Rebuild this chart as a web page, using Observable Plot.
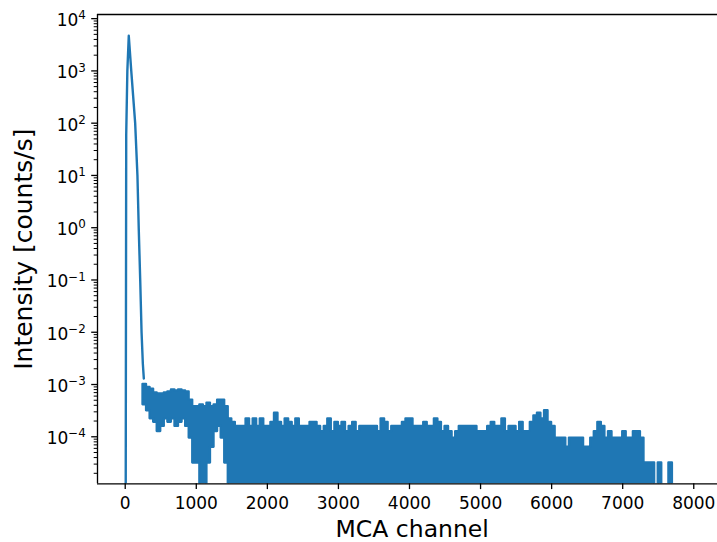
<!DOCTYPE html>
<html>
<head>
<meta charset="utf-8">
<script src="https://cdn.jsdelivr.net/npm/d3@7"></script>
<script src="https://cdn.jsdelivr.net/npm/@observablehq/plot@0.6"></script>
<style>
  html, body { margin: 0; padding: 0; background: #fff; overflow: hidden; }
</style>
</head>
<body>
<div id="chart"></div>
<script>
// ---- Data ----
// Main peak, MCA channel vs intensity [counts/s]
const PEAK_CHANNEL = [0, 14, 30, 50, 85, 140, 172, 190, 211, 230, 248, 262];
const PEAK_RATE    = [0, 60, 1000, 4700, 1000, 100, 10, 1, 0.1, 0.01, 0.0025, 0.0013];

// Noisy tail, read as 50-channel bins starting at channel 250.
// Values are integer counts; one count corresponds to COUNT_RATE counts/s.
const COUNT_RATE = 3.15e-5;
const BIN_FIRST = 250;
const BIN_WIDTH = 50;
// highest level reached in each bin
const BIN_HIGH = [
  32, 28, 26, 22, 21, 21, 22, 23, 25, 24, 25, 24, 23, 16, 12,      // 250 - 949
  12, 13, 12, 14, 12, 13, 16, 16, 12, 7,                           // 950 - 1449
  6, 5, 5, 5, 7, 5, 7, 5, 7, 5, 5, 6, 9,                           // 1500 - 2149
  6, 5, 7, 6, 5, 7, 5, 5, 5, 6, 6, 5, 4, 5, 7, 4, 6,               // 2150 - 2999
  5, 6, 4, 5, 6, 4, 5, 5, 5, 5, 5, 4, 7, 6, 4, 5, 5, 5, 6, 7,      // 3000 - 3999
  7, 5, 5, 5, 6, 5, 5, 7, 6, 4, 5, 4, 3, 4, 5, 5, 5, 5, 5, 4,      // 4000 - 4999
  4, 4, 5, 6, 5, 5, 7, 4, 5, 5, 4, 6, 4, 4, 6, 8, 9, 7, 10, 6,     // 5000 - 5999
  5, 3, 3, 3, 2, 3, 3, 3, 3, 2, 2, 3, 4, 6, 5, 3, 4, 3, 3, 3,      // 6000 - 6999
  4, 3, 3, 4, 4, 3, 1, 1, 1, 0, 1, 0, 0, 1, 0                      // 7000 - 7749
];
// lowest level reached in each bin (0 = a channel with no counts); later bins are 0
const BIN_LOW = [
  13, 10, 7, 6, 4, 5, 7, 6, 7, 5, 6, 7, 5, 3, 1,                   // 250 - 949
  1, 0, 0, 1, 2, 4, 5, 3, 1, 0                                     // 950 - 1449
];

const X_TICKS = [0, 1000, 2000, 3000, 4000, 5000, 6000, 7000, 8000];
const Y_TICKS = [1e-4, 1e-3, 1e-2, 1e-1, 1e0, 1e1, 1e2, 1e3, 1e4];
const X_DOMAIN = [-390, 8334];
const Y_DOMAIN = [1.26e-5, 1.2e4];

// log scale cannot show 0: like matplotlib, zero counts are clipped to the bottom
const ZERO_FLOOR = 1e-12;
const pos = v => (v > 0 ? v : ZERO_FLOOR);

const Y_MINOR = [];
for (const t of [1e-5, ...Y_TICKS]) for (let k = 2; k <= 9; k++) {
  const v = t * k;
  if (v > Y_DOMAIN[0] && v < Y_DOMAIN[1]) Y_MINOR.push(v);
}

const peak = PEAK_CHANNEL.map((c, i) => ({channel: c, rate: PEAK_RATE[i]}));
const bins = BIN_HIGH.map((h, i) => ({
  channel: BIN_FIRST + i * BIN_WIDTH,
  hi: h * COUNT_RATE,
  lo: (BIN_LOW[i] ?? 0) * COUNT_RATE
}));

const BLUE = "#1f77b4";
const TICK_FONT = 17;

const svg = Plot.plot({
  width: 717,
  height: 542,
  marginLeft: 97,
  marginRight: 0,
  marginTop: 14,
  marginBottom: 58.7,
  style: {fontFamily: "DejaVu Sans", fontSize: "17px", color: "black", background: "white", overflow: "visible"},
  x: {domain: X_DOMAIN, label: null},
  y: {type: "log", domain: Y_DOMAIN, label: null},
  marks: [
    Plot.areaY(bins, {
      x: "channel", y1: d => pos(d.lo), y2: d => pos(d.hi),
      curve: "step-after", fill: BLUE, stroke: BLUE, strokeWidth: 2.3,
      strokeLinejoin: "round", clip: true
    }),
    Plot.line(peak, {
      x: "channel", y: d => pos(d.rate), stroke: BLUE, strokeWidth: 2.4,
      strokeLinejoin: "round", strokeLinecap: "round", clip: true
    }),
    Plot.axisX(X_TICKS, {
      tickSize: 5.8, tickPadding: 7, strokeWidth: 1.3, label: null,
      fontSize: TICK_FONT, fontFamily: "DejaVu Sans", tickFormat: d => String(d)
    }),
    Plot.axisY(Y_MINOR, {tickSize: 3.3, strokeWidth: 1, tickFormat: () => "", label: null}),
    Plot.axisY(Y_TICKS, {
      tickSize: 5.8, tickPadding: 5.8, strokeWidth: 1.3, label: null,
      fontSize: TICK_FONT, fontFamily: "DejaVu Sans",
      tickFormat: d => "10^" + Math.round(Math.log10(d))
    }),
    Plot.ruleX([X_DOMAIN[0]], {stroke: "black", strokeWidth: 1.33}),
    Plot.ruleY([Y_DOMAIN[0]], {stroke: "black", strokeWidth: 1.33}),
    Plot.ruleY([Y_DOMAIN[1]], {stroke: "black", strokeWidth: 1.33}),
    Plot.text(["MCA channel"], {
      text: d => d, frameAnchor: "bottom", textAnchor: "middle", lineAnchor: "bottom",
      dy: 53, dx: 4.7, fontSize: 23.5, fontFamily: "DejaVu Sans", fill: "black"
    }),
    Plot.text(["Intensity [counts/s]"], {
      text: d => d, frameAnchor: "left", textAnchor: "middle", lineAnchor: "bottom", rotate: -90,
      dx: -65.5, fontSize: 25, fontFamily: "DejaVu Sans", fill: "black"
    })
  ]
});

// superscript exponents on the log axis labels (10^n)
d3.select(svg).selectAll('g[aria-label="y-axis tick label"] text').each(function () {
  const m = (this.textContent || "").match(/^10\^(-?\d+)$/);
  if (!m) return;
  const sel = d3.select(this);
  sel.text(null);
  sel.append("tspan").attr("dy", 2).text("10");
  sel.append("tspan").attr("dy", -6.8).attr("font-size", "11.9px").text(m[1].replace("-", "\u2212"));
});

document.getElementById("chart").appendChild(svg);
</script>
</body>
</html>
